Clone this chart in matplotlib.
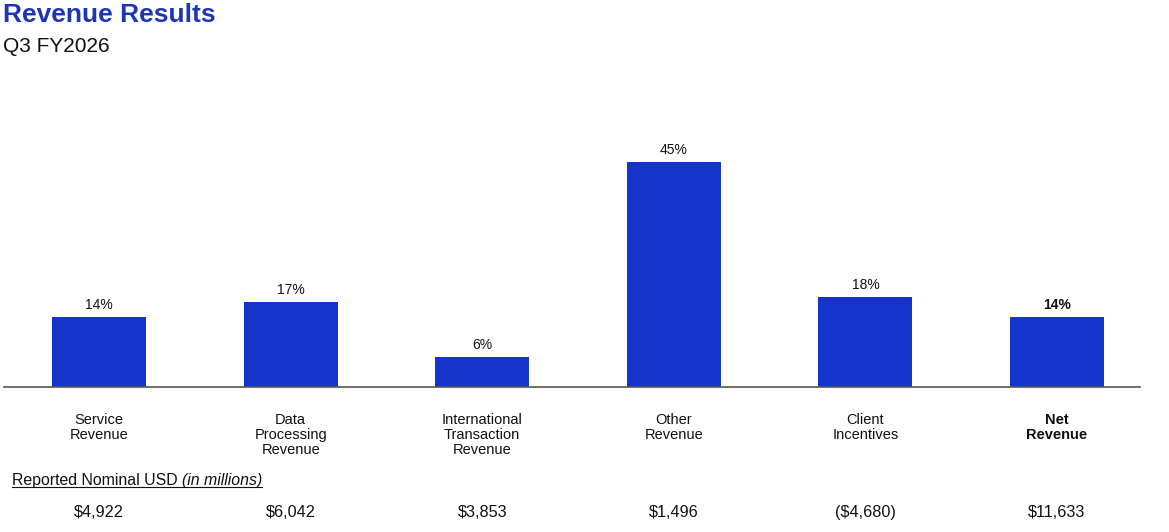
import matplotlib.pyplot as plt
from matplotlib.transforms import blended_transform_factory
from matplotlib.lines import Line2D

plt.rcParams["font.family"] = ["Liberation Sans", "DejaVu Sans"]

categories = [
    "Service\nRevenue",
    "Data\nProcessing\nRevenue",
    "International\nTransaction\nRevenue",
    "Other\nRevenue",
    "Client\nIncentives",
    "Net\nRevenue",
]
growth_pct = [14, 17, 6, 45, 18, 14]
nominal_usd = [4922, 6042, 3853, 1496, -4680, 11633]

BAR = "#1434cb"
TITLE = "#1c36b4"
W, H = 1169, 532


def money(v):
    s = f"${abs(v):,}"
    return f"({s})" if v < 0 else s


fig = plt.figure(figsize=(W / 100, H / 100), dpi=100, facecolor="white")
ax = fig.add_axes([4 / W, 1 - 387 / H, 1136 / W, 250 / H])
ax.set_xlim(-0.496, 5.433)
ax.set_ylim(0, 50)
for s in ["top", "right", "left"]:
    ax.spines[s].set_visible(False)
ax.spines["bottom"].set_color("#555555")
ax.spines["bottom"].set_linewidth(1.2)
ax.set_xticks([])
ax.set_yticks([])

x = list(range(len(categories)))
bars = ax.bar(x, growth_pct, width=0.49, color=BAR, zorder=2)

last = len(categories) - 1
for i, (b, v) in enumerate(zip(bars, growth_pct)):
    ax.text(b.get_x() + b.get_width() / 2, v + 1.0, f"{v}%", ha="center", va="bottom",
            fontsize=10, color="#111111", fontweight="bold" if i == last else "normal")

tr = blended_transform_factory(ax.transData, fig.transFigure)
for i, (lab, v) in enumerate(zip(categories, nominal_usd)):
    w = "bold" if i == last else "normal"
    ax.text(i, 1 - 413 / H, lab, transform=tr, ha="center", va="top", fontsize=10.5,
            linespacing=1.08, color="#111111", fontweight=w)
    # baseline keeps "($4,680)" level with the other amounts
    ax.text(i, 1 - 517 / H, money(v), transform=tr, ha="center", va="baseline",
            fontsize=11.7, color="#111111")

fig.text(3 / W, 1 - 15 / H, "Revenue Results", fontsize=19, fontweight="bold",
         color=TITLE, ha="left", va="center")
fig.text(3 / W, 1 - 46 / H, "Q3 FY2026", fontsize=15, color="#111111", ha="left", va="center")

t1 = fig.text(12 / W, 1 - 480 / H, "Reported Nominal USD ", fontsize=11.4, color="#111111",
              ha="left", va="center")
fig.canvas.draw()
r = fig.canvas.get_renderer()
bb1 = t1.get_window_extent(r)
t2 = fig.text(bb1.x1 / W, 1 - 480 / H, "(in millions)", fontsize=11.4, style="italic",
              color="#111111", ha="left", va="center")
fig.canvas.draw()
bb2 = t2.get_window_extent(r)
uy = (bb1.y0 + 1) / H
fig.add_artist(Line2D([bb1.x0 / W, bb2.x1 / W], [uy, uy], color="#111111", lw=0.8,
                      transform=fig.transFigure))

fig.savefig("out.png", dpi=100, facecolor="white")
